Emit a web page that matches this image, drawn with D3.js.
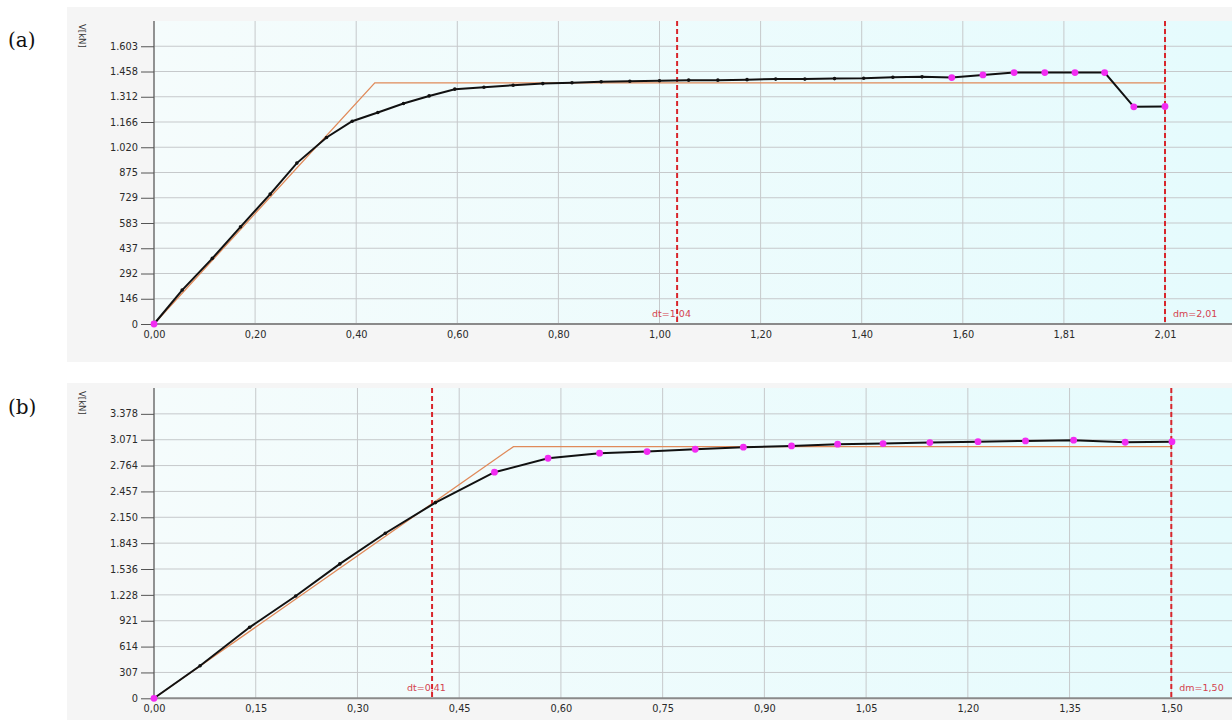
<!DOCTYPE html>
<html>
<head>
<meta charset="utf-8">
<script src="https://cdn.jsdelivr.net/npm/d3@7"></script>
<style>
  body { margin: 0; background: #fff; }
  svg { display: block; }
</style>
</head>
<body>
<div id="chart"></div>
<script>
// ---- panel (a) data ----
const dA = [0, 0.056, 0.116, 0.172, 0.231, 0.284, 0.343, 0.394, 0.445, 0.496, 0.547, 0.598,
            0.656, 0.714, 0.773, 0.831, 0.889, 0.946, 1.005, 1.063, 1.121, 1.179, 1.236, 1.294,
            1.353, 1.411, 1.469, 1.527, 1.586, 1.648, 1.710, 1.771, 1.831, 1.890, 1.948, 2.010];
const vA = [0, 196, 379, 561, 750, 929, 1077, 1171, 1221, 1273, 1317, 1356,
            1367, 1379, 1388, 1393, 1399, 1402, 1405, 1408, 1408, 1411, 1414, 1414,
            1417, 1419, 1425, 1427, 1423, 1438, 1452, 1452, 1452, 1452, 1254, 1256];
const magentaFromA = 28; // index from which points are drawn in magenta
const bilinA_d = [0, 0.439, 2.01];
const bilinA_v = [0, 1392, 1392];
const xTicksA = [0, 0.201, 0.402, 0.603, 0.804, 1.005, 1.206, 1.407, 1.608, 1.809, 2.01];
const xLabelsA = ["0,00", "0,20", "0,40", "0,60", "0,80", "1,00", "1,20", "1,40", "1,60", "1,81", "2,01"];
const yTicksA = [0, 145.8, 291.6, 437.4, 583.2, 729, 874.8, 1020.6, 1166.4, 1312.2, 1458, 1603.8];
const yLabelsA = ["0", "146", "292", "437", "583", "729", "875", "1.020", "1.166", "1.312", "1.458", "1.603"];
const dtA = 1.04, dmA = 2.01;

// ---- panel (b) data ----
const dB = [0, 0.068, 0.141, 0.209, 0.274, 0.341, 0.415, 0.502, 0.581, 0.657, 0.727, 0.798,
            0.869, 0.940, 1.008, 1.075, 1.144, 1.215, 1.285, 1.356, 1.432, 1.501];
const vB = [0, 387, 843, 1215, 1596, 1960, 2324, 2685, 2851, 2911, 2930, 2958,
            2982, 2997, 3018, 3025, 3037, 3048, 3057, 3065, 3041, 3048];
const magentaFromB = 7;
const bilinB_d = [0, 0.530, 1.50];
const bilinB_v = [0, 2989, 2989];
const xTicksB = [0, 0.15, 0.30, 0.45, 0.60, 0.75, 0.90, 1.05, 1.20, 1.35, 1.50];
const xLabelsB = ["0,00", "0,15", "0,30", "0,45", "0,60", "0,75", "0,90", "1,05", "1,20", "1,35", "1,50"];
const yTicksB = [0, 307.1, 614.2, 921.3, 1228.4, 1535.5, 1842.6, 2149.7, 2456.8, 2763.9, 3071, 3378.1];
const yLabelsB = ["0", "307", "614", "921", "1.228", "1.536", "1.843", "2.150", "2.457", "2.764", "3.071", "3.378"];
const dtB = 0.41, dmB = 1.50;

var W = 1232, H = 720;
var svg = d3.select("#chart").append("svg")
    .attr("width", W)
    .attr("height", H);

// plot background gradient
var grad = svg.append("defs").append("linearGradient")
    .attr("id", "plotbg")
    .attr("x1", "0%").attr("x2", "100%").attr("y1", "0%").attr("y2", "0%");
grad.append("stop").attr("offset", "0%").attr("stop-color", "#f5fcfc");
grad.append("stop").attr("offset", "100%").attr("stop-color", "#e5fbfd");

function panel(cfg)
{
    const g = svg.append("g");
    const left = 154;

    g.append("rect")
      .attr("x", 67).attr("y", cfg.bgTop)
      .attr("width", W - 67).attr("height", cfg.bgBottom - cfg.bgTop)
      .attr("fill", "#f5f5f5");

    const x = d3.scaleLinear().domain([0, cfg.dm]).range([left, cfg.xEnd]);
    const y = d3.scaleLinear().domain([0, cfg.yMax]).range([cfg.bottom, cfg.top]);

    g.append("rect")
      .attr("x", left).attr("y", cfg.top)
      .attr("width", W - left).attr("height", cfg.bottom - cfg.top)
      .attr("fill", "url(#plotbg)");

    // grid
    g.append("g").selectAll("line.h")
      .data(cfg.yTicks.slice(1))
      .enter().append("line")
        .attr("x1", left).attr("x2", W)
        .attr("y1", d => y(d)).attr("y2", d => y(d))
        .attr("stroke", "#c6c9cb").attr("stroke-width", 1);
    g.append("g").selectAll("line.v")
      .data(cfg.xTicks.slice(1))
      .enter().append("line")
        .attr("x1", d => x(d)).attr("x2", d => x(d))
        .attr("y1", cfg.top).attr("y2", cfg.bottom)
        .attr("stroke", "#c6c9cb").attr("stroke-width", 1);

    // y axis
    const yAxis = d3.axisLeft(y)
        .tickValues(cfg.yTicks)
        .tickSize(13)
        .tickPadding(3)
        .tickFormat((d, i) => cfg.yLabels[i]);
    const ya = g.append("g")
        .attr("transform", "translate(" + left + ",0)")
        .call(yAxis);
    ya.select(".domain").attr("stroke", "#6f6f6f").attr("stroke-width", 1.5)
      .attr("d", "M0," + cfg.top + "V" + cfg.bottom);
    ya.selectAll(".tick line").attr("stroke", "#555");
    ya.selectAll("text").attr("fill", "#2a2a2a")
      .style("font-family", "DejaVu Sans").style("font-size", "9.8px");

    // x axis
    const xAxis = d3.axisBottom(x)
        .tickValues(cfg.xTicks)
        .tickSize(0)
        .tickPadding(7)
        .tickFormat((d, i) => cfg.xLabels[i]);
    const xa = g.append("g")
        .attr("transform", "translate(0," + cfg.bottom + ")")
        .call(xAxis);
    xa.select(".domain").attr("stroke", "#8a8a8a").attr("stroke-width", 2)
      .attr("d", "M" + left + ",0H" + W);
    xa.selectAll("text").attr("fill", "#2a2a2a")
      .style("font-family", "DejaVu Sans").style("font-size", "9.8px");

    // axis title
    g.append("text")
      .attr("transform", "translate(79," + (cfg.top + 3) + ") rotate(90)")
      .attr("fill", "#333")
      .style("font-family", "DejaVu Sans").style("font-size", "8.5px")
      .text("V[kN]");

    // panel letter
    g.append("text")
      .attr("x", 8).attr("y", cfg.top + 26)
      .style("font-family", "DejaVu Serif").style("font-size", "20px")
      .attr("fill", "#111")
      .text(cfg.name);

    // bilinear idealisation
    const line = d3.line().x(d => x(d[0])).y(d => y(d[1]));
    g.append("path")
      .attr("d", line(cfg.bd.map((d, i) => [d, cfg.bv[i]])))
      .attr("fill", "none").attr("stroke", "#e08a5a").attr("stroke-width", 1.3);

    // dt / dm markers
    [cfg.dt, cfg.dm].forEach(v => {
        g.append("line")
          .attr("x1", x(v)).attr("x2", x(v))
          .attr("y1", cfg.top).attr("y2", cfg.bottom)
          .attr("stroke", "#d8262c").attr("stroke-width", 2)
          .attr("stroke-dasharray", "5,3");
    });
    g.append("text")
      .attr("x", x(cfg.dt) - 25).attr("y", cfg.bottom - 7)
      .attr("fill", "#d4424e")
      .style("font-family", "DejaVu Sans").style("font-size", "9.5px")
      .text(cfg.dtLabel);
    g.append("text")
      .attr("x", x(cfg.dm) + 8).attr("y", cfg.bottom - 7)
      .attr("fill", "#d4424e")
      .style("font-family", "DejaVu Sans").style("font-size", "9.5px")
      .text(cfg.dmLabel);

    // capacity curve
    const pts = cfg.d.map((d, i) => [d, cfg.v[i]]);
    g.append("path")
      .attr("d", line(pts))
      .attr("fill", "none").attr("stroke", "#111").attr("stroke-width", 2);
    g.append("g").selectAll("circle")
      .data(pts)
      .enter().append("circle")
        .attr("cx", d => x(d[0]))
        .attr("cy", d => y(d[1]))
        .attr("r", (d, i) => (i === 0 || i >= cfg.magFrom) ? 3.4 : 1.8)
        .attr("fill", (d, i) => (i === 0 || i >= cfg.magFrom) ? "#f22cf2" : "#111");
}

panel({
    name: "(a)", bgTop: 7, bgBottom: 362, top: 21, bottom: 324, xEnd: 1165,
    yMax: 1749.6, d: dA, v: vA, magFrom: magentaFromA, bd: bilinA_d, bv: bilinA_v,
    xTicks: xTicksA, xLabels: xLabelsA, yTicks: yTicksA, yLabels: yLabelsA,
    dt: dtA, dm: dmA, dtLabel: "dt=1,04", dmLabel: "dm=2,01"
});
panel({
    name: "(b)", bgTop: 383, bgBottom: 720, top: 388, bottom: 698.3, xEnd: 1171.3,
    yMax: 3685.2, d: dB, v: vB, magFrom: magentaFromB, bd: bilinB_d, bv: bilinB_v,
    xTicks: xTicksB, xLabels: xLabelsB, yTicks: yTicksB, yLabels: yLabelsB,
    dt: dtB, dm: dmB, dtLabel: "dt=0,41", dmLabel: "dm=1,50"
});
</script>
</body>
</html>
